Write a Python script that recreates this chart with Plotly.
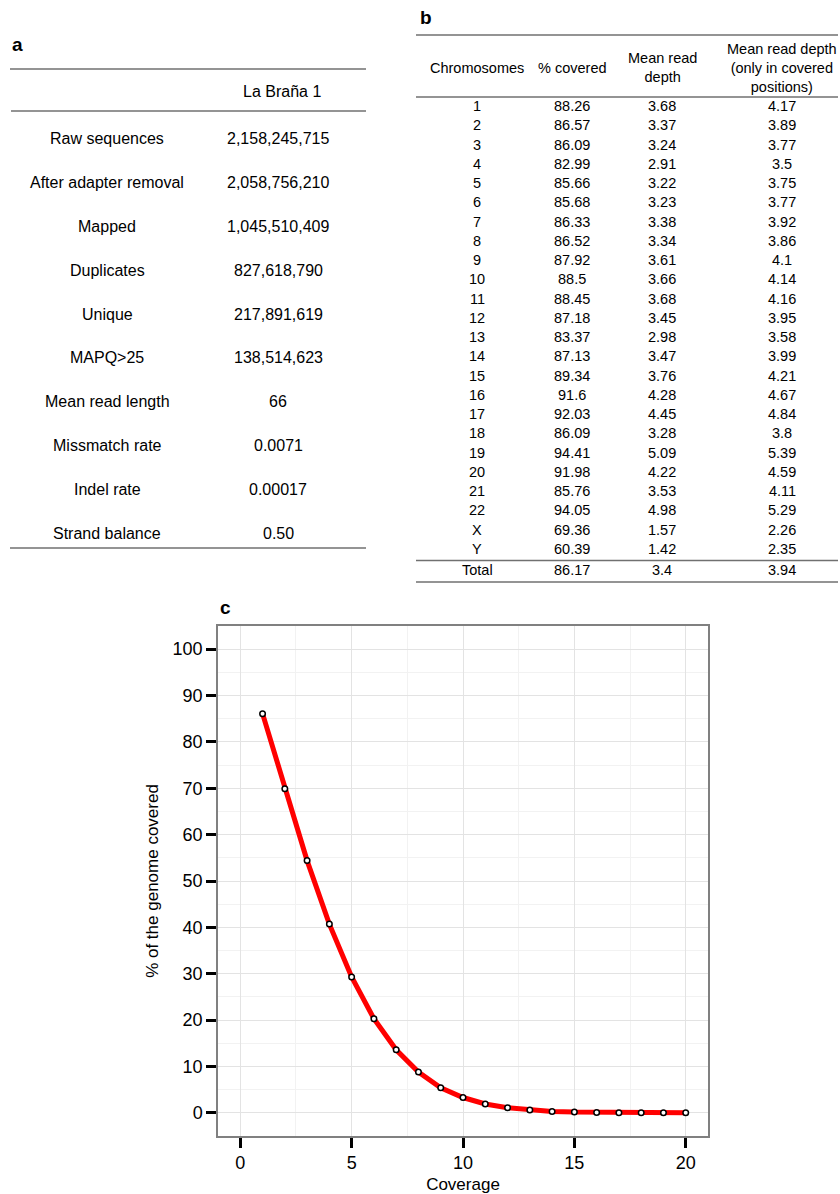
import plotly.graph_objects as go

W, H = 840, 1194

# ---- Table a data ----
a_header = "La Braña 1"
a_labels = ["Raw sequences", "After adapter removal", "Mapped", "Duplicates", "Unique",
            "MAPQ>25", "Mean read length", "Missmatch rate", "Indel rate", "Strand balance"]
a_values = ["2,158,245,715", "2,058,756,210", "1,045,510,409", "827,618,790", "217,891,619",
            "138,514,623", "66", "0.0071", "0.00017", "0.50"]

# ---- Table b data ----
b_headers = ["Chromosomes", "% covered", "Mean read<br>depth",
             "Mean read depth<br>(only in covered<br>positions)"]
chromosomes = [str(i) for i in range(1, 23)] + ["X", "Y"]
pct_covered = ["88.26", "86.57", "86.09", "82.99", "85.66", "85.68", "86.33", "86.52", "87.92",
               "88.5", "88.45", "87.18", "83.37", "87.13", "89.34", "91.6", "92.03", "86.09",
               "94.41", "91.98", "85.76", "94.05", "69.36", "60.39"]
mean_depth = ["3.68", "3.37", "3.24", "2.91", "3.22", "3.23", "3.38", "3.34", "3.61", "3.66",
              "3.68", "3.45", "2.98", "3.47", "3.76", "4.28", "4.45", "3.28", "5.09", "4.22",
              "3.53", "4.98", "1.57", "1.42"]
mean_depth_cov = ["4.17", "3.89", "3.77", "3.5", "3.75", "3.77", "3.92", "3.86", "4.1", "4.14",
                  "4.16", "3.95", "3.58", "3.99", "4.21", "4.67", "4.84", "3.8", "5.39", "4.59",
                  "4.11", "5.29", "2.26", "2.35"]
total_row = ["Total", "86.17", "3.4", "3.94"]

# ---- Panel c data ----
coverage = list(range(1, 21))
genome_pct = [86.1, 69.9, 54.4, 40.7, 29.3, 20.3, 13.6, 8.8, 5.4, 3.3,
              1.9, 1.1, 0.6, 0.3, 0.15, 0.07, 0.03, 0.015, 0.007, 0.003]


def px(x):
    return x / W


def py(y):
    return 1 - y / H


FONT = "Liberation Sans, Arial, sans-serif"
annotations = []
shapes = []


def text(x, y, s, size, bold=False, xanchor="center"):
    annotations.append(dict(
        x=px(x), y=py(y), xref="paper", yref="paper", text=("<b>%s</b>" % s) if bold else s,
        showarrow=False, xanchor=xanchor, yanchor="middle",
        font=dict(family=FONT, size=size, color="black"), align="center"))


def hline(x0, x1, y, color="#707070", width=1.3):
    shapes.append(dict(type="line", xref="paper", yref="paper", x0=px(x0), x1=px(x1),
                       y0=py(y), y1=py(y), line=dict(color=color, width=width)))


# Table a
text(10, 45, "a", 19, bold=True, xanchor="left")
hline(10, 366, 69)
hline(11, 366, 111)
hline(10, 366, 548)
text(282, 91, a_header, 16)
a_y0, a_dy = 139, 43.8
for i, (lab, val) in enumerate(zip(a_labels, a_values)):
    y = a_y0 + i * a_dy
    text(107, y, lab, 16)
    text(278, y, val, 16)

# Table b
text(418, 18, "b", 19, bold=True, xanchor="left")
hline(416, 838, 35)
hline(416, 838, 97)
hline(416, 838, 560.5)
hline(416, 838, 582)
b_cols = [477, 572, 662, 782]
for c, hdr in zip(b_cols, b_headers):
    text(c, 68, hdr, 14.5)
b_y0, b_dy = 106, 19.26
for i in range(len(chromosomes)):
    y = b_y0 + i * b_dy
    for c, v in zip(b_cols, [chromosomes[i], pct_covered[i], mean_depth[i], mean_depth_cov[i]]):
        text(c, y, v, 14.5)
for c, v in zip(b_cols, total_row):
    text(c, 569.5, v, 14.5)

# Panel c
text(218, 607, "c", 19, bold=True, xanchor="left")

fig = go.Figure()
fig.add_trace(go.Scatter(
    x=coverage, y=genome_pct, mode="lines",
    line=dict(color="#ff0000", width=5), showlegend=False, hoverinfo="skip"))
fig.add_trace(go.Scatter(
    x=coverage, y=genome_pct, mode="markers",
    marker=dict(symbol="circle", size=5.5, color="white", line=dict(color="black", width=1.5)),
    showlegend=False))

x0p, x1p, y0p, y1p = 218, 708, 626, 1136
fig.update_layout(
    width=W, height=H, margin=dict(l=0, r=0, t=0, b=0),
    paper_bgcolor="white", plot_bgcolor="white",
    annotations=annotations, shapes=shapes,
    font=dict(family=FONT, color="black"),
    xaxis=dict(domain=[px(x0p), px(x1p)], range=[-1, 21], tickvals=[0, 5, 10, 15, 20],
               ticks="outside", ticklen=10, tickwidth=2.5, tickcolor="black",
               tickfont=dict(size=18, color="black"), showline=True, linecolor="#808080",
               linewidth=1.5, mirror=True, showgrid=True, gridcolor="#e3e3e3", gridwidth=1,
               minor=dict(tickvals=[2.5, 7.5, 12.5, 17.5], showgrid=True, gridcolor="#f2f2f2",
                          gridwidth=1, ticks=""),
               zeroline=False, automargin=False,
               title=dict(text="Coverage", font=dict(size=17, color="black"), standoff=8)),
    yaxis=dict(domain=[py(y1p), py(y0p)], range=[-5, 105], tickvals=list(range(0, 101, 10)),
               ticks="outside", ticklen=10, tickwidth=2.5, tickcolor="black",
               tickfont=dict(size=18, color="black"), showline=True, linecolor="#808080",
               linewidth=1.5, mirror=True, showgrid=True, gridcolor="#e3e3e3", gridwidth=1,
               minor=dict(tickvals=list(range(5, 101, 10)), showgrid=True, gridcolor="#f2f2f2",
                          gridwidth=1, ticks=""),
               zeroline=False, automargin=False,
               title=dict(text="% of the genome covered", font=dict(size=17, color="black"),
                          standoff=10)),
)

fig.write_html("out.html")
